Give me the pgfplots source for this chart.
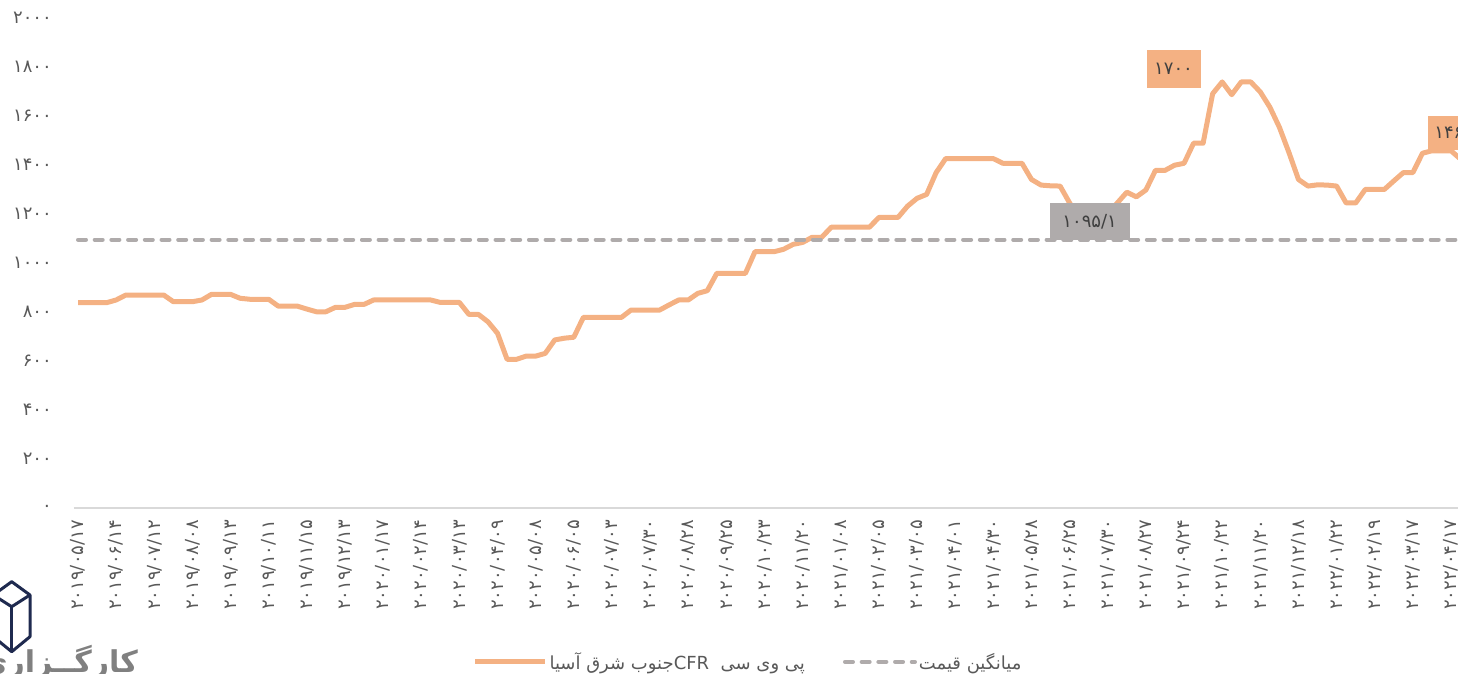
\documentclass[border=0pt]{standalone}
\usepackage{fontspec}
\usepackage{pgfplots}
\pgfplotsset{compat=1.18}
\usepackage{pgfplotstable}
\TeXXeTstate=1
\setmainfont{DejaVu Sans}
\newfontfamily\fa[Script=Arabic]{DejaVu Sans}
\definecolor{lineor}{HTML}{F4B183}
\definecolor{avg}{HTML}{AFABAB}
\definecolor{txt}{HTML}{595959}
\definecolor{dtxt}{HTML}{404040}
\definecolor{navy}{HTML}{1F2A4F}
\definecolor{axl}{HTML}{D9D9D9}
\pgfplotstableread{
i v
0 838
1 838
2 838
3 838
4 849
5 869
6 869
7 869
8 869
9 869
10 842
11 842
12 842
13 849
14 872
15 872
16 872
17 856
18 852
19 852
20 852
21 824
22 824
23 824
24 812
25 801
26 801
27 819
28 819
29 831
30 831
31 849
32 849
33 849
34 849
35 849
36 849
37 849
38 839
39 839
40 839
41 790
42 790
43 760
44 713
45 607
46 607
47 620
48 620
49 631
50 686
51 693
52 697
53 778
54 778
55 778
56 778
57 778
58 808
59 808
60 808
61 808
62 829
63 849
64 849
65 876
66 887
67 958
68 958
69 958
70 958
71 1046
72 1046
73 1046
74 1056
75 1076
76 1084
77 1105
78 1105
79 1146
80 1146
81 1146
82 1146
83 1146
84 1186
85 1186
86 1186
87 1232
88 1264
89 1280
90 1369
91 1426
92 1426
93 1426
94 1426
95 1426
96 1426
97 1407
98 1407
99 1407
100 1341
101 1318
102 1315
103 1314
104 1245
105 1185
106 1165
107 1170
108 1200
109 1245
110 1289
111 1270
112 1298
113 1378
114 1378
115 1399
116 1407
117 1489
118 1489
119 1691
120 1739
121 1687
122 1739
123 1739
124 1698
125 1636
126 1554
127 1451
128 1341
129 1314
130 1319
131 1318
132 1314
133 1245
134 1245
135 1300
136 1300
137 1300
138 1335
139 1369
140 1369
141 1448
142 1458
143 1458
144 1458
145 1424
}\pvc
\begin{document}
\begin{tikzpicture}[x=1pt,y=1pt]
\begin{axis}[
  at={(74pt,166pt)}, anchor=south west,
  scale only axis, width=1384pt, height=490pt,
  xmin=-0.42, xmax=144.73, ymin=0, ymax=2000,
  axis x line*=bottom, axis y line*=left,
  x axis line style={draw=axl, line width=1.5pt},
  y axis line style={draw=none},
  major tick length=0pt,
  xtick={0,4,...,144},
  xticklabels={۲۰۱۹/۰۵/۱۷,۲۰۱۹/۰۶/۱۴,۲۰۱۹/۰۷/۱۲,۲۰۱۹/۰۸/۰۸,۲۰۱۹/۰۹/۱۳,۲۰۱۹/۱۰/۱۱,۲۰۱۹/۱۱/۱۵,۲۰۱۹/۱۲/۱۳,۲۰۲۰/۰۱/۱۷,۲۰۲۰/۰۲/۱۴,۲۰۲۰/۰۳/۱۳,۲۰۲۰/۰۴/۰۹,۲۰۲۰/۰۵/۰۸,۲۰۲۰/۰۶/۰۵,۲۰۲۰/۰۷/۰۳,۲۰۲۰/۰۷/۳۰,۲۰۲۰/۰۸/۲۸,۲۰۲۰/۰۹/۲۵,۲۰۲۰/۱۰/۲۳,۲۰۲۰/۱۱/۲۰,۲۰۲۱/۰۱/۰۸,۲۰۲۱/۰۲/۰۵,۲۰۲۱/۰۳/۰۵,۲۰۲۱/۰۴/۰۱,۲۰۲۱/۰۴/۳۰,۲۰۲۱/۰۵/۲۸,۲۰۲۱/۰۶/۲۵,۲۰۲۱/۰۷/۳۰,۲۰۲۱/۰۸/۲۷,۲۰۲۱/۰۹/۲۴,۲۰۲۱/۱۰/۲۲,۲۰۲۱/۱۱/۲۰,۲۰۲۱/۱۲/۱۸,۲۰۲۲/۰۱/۲۲,۲۰۲۲/۰۲/۱۹,۲۰۲۲/۰۳/۱۷,۲۰۲۲/۰۴/۱۷},
  ytick={0,200,...,2000},
  yticklabels={۰,۲۰۰,۴۰۰,۶۰۰,۸۰۰,۱۰۰۰,۱۲۰۰,۱۴۰۰,۱۶۰۰,۱۸۰۰,۲۰۰۰},
  tick label style={font=\fa\fontsize{18}{18}\selectfont, text=txt, inner sep=0pt},
  xticklabel style={rotate=90, anchor=east},
  yticklabel style={anchor=east},
  xticklabel shift=12pt, yticklabel shift=22pt,
  clip mode=individual,
  legend columns=2,
  legend style={draw=none, fill=none, at={(0.487,-0.314)}, anchor=center,
    font=\fa\fontsize{18}{18}\selectfont, text=txt,
    /tikz/every even column/.append style={column sep=36pt}},
  legend image code/.code={\draw[#1] (0pt,0pt) -- (70pt,0pt);},
]
\addplot[lineor, line width=5pt, line join=round] table[x=i,y=v]{\pvc};
\addlegendentry{\beginR پی وی سی\ \ \beginL CFR\endL جنوب شرق آسیا\endR}
\addplot[avg, line width=4pt, line cap=round, dash pattern=on 8pt off 8.7pt] coordinates {(0,1095.1) (145,1095.1)};
\addlegendentry{\beginR میانگین قیمت\endR}
\node[fill=lineor, text=dtxt, font=\fa\fontsize{18}{18}\selectfont, minimum width=54pt, minimum height=38pt, inner sep=0pt] at (axis cs:114.9,1792) {۱۷۰۰};
\node[fill=avg, text=dtxt, font=\fa\fontsize{18}{18}\selectfont, minimum width=80pt, minimum height=37pt, inner sep=0pt] at (axis cs:106.1,1169) {۱۰۹۵/۱};
\node[fill=lineor, text=dtxt, font=\fa\fontsize{18}{18}\selectfont, minimum height=34pt, inner xsep=6pt, anchor=west] at (axis cs:141.6,1531) {۱۴۶۰};
\end{axis}
% logo
\draw[navy, line width=3pt, line join=round] (11.7,92.3) -- (30,79) -- (30,37.3) -- (11.7,22.3) -- (-6.7,37.3) -- (-6.7,79) -- cycle;
\draw[navy, line width=3pt, line join=round] (-6.7,79) -- (11.7,67.3) -- (30,79);
\draw[navy, line width=3pt] (11.7,67.3) -- (11.7,22.3);
\node[anchor=north east, inner sep=0pt, text=black!50, font=\fa\bfseries\fontsize{30}{30}\selectfont] at (138,29) {\beginR کارگــزاری\endR};
\pgfresetboundingbox
\path[use as bounding box] (0,0) rectangle (1458,674);
\end{tikzpicture}
\end{document}
